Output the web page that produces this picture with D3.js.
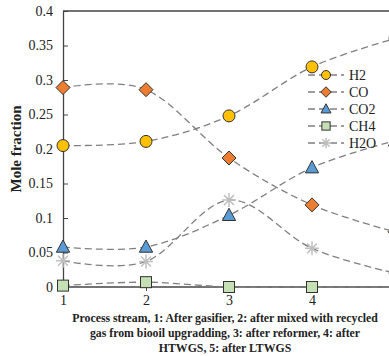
<!DOCTYPE html>
<html>
<head>
<meta charset="utf-8">
<script src="https://cdn.jsdelivr.net/npm/d3@7"></script>
<style>
  body { margin: 0; background: #fff; }
  svg { display: block; font-family: "Liberation Serif", "DejaVu Serif", serif; }
</style>
</head>
<body>
<div class="chart-container"></div>
<script>
// data
const stages = [1, 2, 3, 4, 5];
const h2 = [0.205, 0.211, 0.248, 0.319, 0.36];
const co = [0.289, 0.286, 0.187, 0.119, 0.08];
const co2 = [0.058, 0.058, 0.104, 0.173, 0.212];
const ch4 = [0.002, 0.007, 0.0, 0.0, 0.0];
const h2o = [0.038, 0.037, 0.126, 0.056, 0.02];
const yTicks = [0, 0.05, 0.1, 0.15, 0.2, 0.25, 0.3, 0.35, 0.4];
const xTicks = [1, 2, 3, 4];

const series = [
    { name: 'H2', shape: 'circle', fill: '#FFC000', values: h2 },
    { name: 'CO', shape: 'diamond', fill: '#ED7D31', values: co },
    { name: 'CO2', shape: 'triangle', fill: '#5B9BD5', values: co2 },
    { name: 'CH4', shape: 'square', fill: '#C5E0B4', values: ch4 },
    { name: 'H2O', shape: 'star', fill: '#BFBFBF', values: h2o }
];

const width = 389;
const height = 356;
const plotLeft = 63, plotTop = 11, plotBottom = 287;

const xScale = d3.scaleLinear().domain([1, 5]).range([plotLeft, 395]);
const yScale = d3.scaleLinear().domain([0, 0.4]).range([plotBottom, plotTop]);

const svg = d3.select('.chart-container')
    .append('svg')
    .attr('width', width)
    .attr('height', height);

// marker drawing
function drawMarker(g, shape, fill, scale) {
    const k = scale || 1;
    if (shape === 'circle') {
        g.append('circle').attr('r', 6 * k)
            .attr('fill', fill).attr('stroke', '#333').attr('stroke-width', 1);
    } else if (shape === 'diamond') {
        const s = 7 * k;
        g.append('path').attr('d', `M0,${-s}L${s},0L0,${s}L${-s},0Z`)
            .attr('fill', fill).attr('stroke', '#333').attr('stroke-width', 1);
    } else if (shape === 'triangle') {
        const s = 7 * k;
        g.append('path').attr('d', `M0,${-s}L${s * 0.95},${s * 0.75}L${-s * 0.95},${s * 0.75}Z`)
            .attr('fill', fill).attr('stroke', '#333').attr('stroke-width', 1);
    } else if (shape === 'square') {
        const s = 5.5 * k;
        g.append('rect').attr('x', -s).attr('y', -s).attr('width', 2 * s).attr('height', 2 * s)
            .attr('fill', fill).attr('stroke', '#333').attr('stroke-width', 1);
    } else if (shape === 'star') {
        const s = 7 * k;
        const p = d3.range(4).map(i => {
            const a = i * Math.PI / 4;
            return `M${-s * Math.cos(a)},${-s * Math.sin(a)}L${s * Math.cos(a)},${s * Math.sin(a)}`;
        }).join('');
        g.append('path').attr('d', p)
            .attr('fill', 'none').attr('stroke', fill).attr('stroke-width', 1.5);
    }
}

// axes
const yAxis = d3.axisLeft(yScale)
    .tickValues(yTicks)
    .tickFormat(d => d3.format('')(+d.toFixed(2)))
    .tickSizeInner(-5)
    .tickSizeOuter(0)
    .tickPadding(10);

const yAxisDraw = svg.append('g')
    .attr('transform', `translate(${plotLeft}, 0)`)
    .call(yAxis);

yAxisDraw.select('.domain').attr('stroke', '#444').attr('stroke-width', 1.3);
yAxisDraw.selectAll('line').attr('stroke', '#444');
yAxisDraw.selectAll('text')
    .attr('font-family', '"Liberation Serif", serif')
    .attr('font-size', 14)
    .attr('fill', '#222');

const xAxis = d3.axisBottom(xScale)
    .tickValues(xTicks)
    .tickFormat(d3.format('d'))
    .tickSize(4)
    .tickSizeOuter(0)
    .tickPadding(4);

const xAxisDraw = svg.append('g')
    .attr('transform', `translate(0, ${plotBottom})`)
    .call(xAxis);

xAxisDraw.select('.domain').attr('stroke', '#444').attr('stroke-width', 1.3)
    .attr('d', `M${plotLeft},0H${width}`);
xAxisDraw.selectAll('line').attr('stroke', '#444');
xAxisDraw.selectAll('text')
    .attr('font-family', '"Liberation Serif", serif')
    .attr('font-size', 14)
    .attr('fill', '#222');

// top border
svg.append('line')
    .attr('x1', plotLeft).attr('x2', width)
    .attr('y1', plotTop).attr('y2', plotTop)
    .attr('stroke', '#444').attr('stroke-width', 1.3);

// lines
const lineGen = d3.line()
    .x((d, i) => xScale(stages[i]))
    .y(d => yScale(d))
    .curve(d3.curveCardinal.tension(0));

const chartGroup = svg.append('g').attr('class', 'line-chart');

chartGroup.selectAll('.line-series')
    .data(series)
    .enter()
        .append('path')
        .attr('class', 'line-series')
        .attr('d', d => lineGen(d.values))
        .attr('fill', 'none')
        .attr('stroke', '#808080')
        .attr('stroke-width', 1.3)
        .attr('stroke-dasharray', '7,4');

// markers
series.forEach(s => {
    s.values.forEach((v, i) => {
        const g = chartGroup.append('g')
            .attr('transform', `translate(${xScale(stages[i])}, ${yScale(v)})`);
        drawMarker(g, s.shape, s.fill, 1);
    });
});

// legend
const legend = svg.append('g').attr('class', 'legend');
series.forEach((s, i) => {
    const g = legend.append('g').attr('transform', `translate(326, ${75 + i * 17})`);
    g.append('line')
        .attr('x1', -18).attr('x2', 18)
        .attr('stroke', '#808080').attr('stroke-width', 1.3)
        .attr('stroke-dasharray', '7,4');
    drawMarker(g.append('g'), s.shape, s.fill, 0.75);
    g.append('text')
        .attr('x', 23)
        .attr('dy', '0.35em')
        .attr('font-size', 14)
        .attr('fill', '#222')
        .text(s.name);
});

// y title
svg.append('text')
    .attr('transform', 'translate(21, 149) rotate(-90)')
    .attr('text-anchor', 'middle')
    .attr('font-size', 15)
    .attr('font-weight', 'bold')
    .attr('fill', '#222')
    .text('Mole fraction');

// x title
const xTitle = [
    'Process stream, 1: After gasifier, 2: after mixed with recycled',
    'gas from biooil upgradding, 3: after reformer, 4: after',
    'HTWGS, 5: after LTWGS'
];
svg.append('g')
    .selectAll('text')
    .data(xTitle)
    .enter()
        .append('text')
        .attr('x', 225)
        .attr('y', (d, i) => 322 + i * 15)
        .attr('text-anchor', 'middle')
        .attr('font-size', 11.8)
        .attr('font-weight', 'bold')
        .attr('fill', '#222')
        .text(d => d);
</script>
</body>
</html>
